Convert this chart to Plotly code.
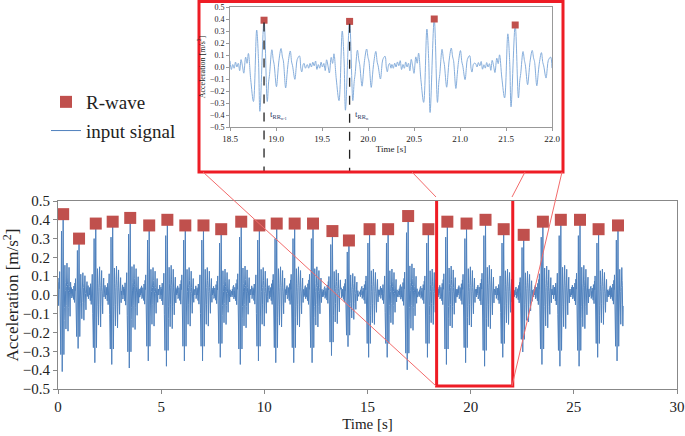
import plotly.graph_objects as go

# R-wave peaks
r_times = [0.25, 1.02, 1.83, 2.65, 3.5, 4.42, 5.3, 6.17, 7.05, 7.91, 8.88, 9.76,
           10.6, 11.47, 12.36, 13.3, 14.1, 15.1, 16.0, 16.97, 17.95, 18.87, 19.8,
           20.72, 21.6, 22.57, 23.5, 24.37, 25.3, 26.2, 27.14]
r_values = [0.43, 0.30, 0.38, 0.39, 0.41, 0.37, 0.40, 0.37, 0.37, 0.35, 0.39, 0.37,
            0.38, 0.38, 0.38, 0.34, 0.29, 0.35, 0.35, 0.42, 0.35, 0.39, 0.38,
            0.40, 0.35, 0.32, 0.39, 0.40, 0.40, 0.35, 0.37]
signal_end = 27.4

# one heartbeat of the input signal (offset from R peak [s], m/s2)
beat_offsets = [-0.46, -0.445, -0.43, -0.415, -0.40, -0.385, -0.37, -0.355, -0.34, -0.325,
                -0.31, -0.295, -0.28, -0.265, -0.25, -0.235, -0.22, -0.20, -0.185, -0.17,
                -0.145, -0.115, -0.08, -0.06, -0.045, 0.00, 0.035, 0.05, 0.06, 0.085,
                0.10, 0.11, 0.135, 0.15, 0.16, 0.185, 0.20, 0.21, 0.235, 0.25,
                0.26, 0.285, 0.30, 0.31, 0.335, 0.35, 0.36, 0.385, 0.40, 0.41,
                0.425, 0.435, 0.45]
beat_shape = [0.02, -0.01, 0.03, 0.00, 0.04, 0.01, 0.05, -0.02, 0.02, -0.01,
              0.04, 0.00, 0.03, -0.03, 0.06, 0.01, -0.05, 0.08, 0.03, 0.11,
              -0.10, -0.28, 0.30, 0.05, -0.36, 0.38, -0.28, -0.12, -0.06, 0.14,
              0.06, 0.02, -0.16, -0.05, 0.04, 0.15, 0.08, 0.05, -0.17, -0.06,
              0.02, 0.13, 0.04, 0.01, -0.10, 0.00, 0.06, 0.09, -0.01, -0.04,
              0.02, 0.03, -0.01]
beat_peak = 0.38

zoom_range = [18.5, 22.0]


def build_signal(t_lo, t_hi):
    ts, vs = [], []
    n = len(r_times)
    for i, (r, a) in enumerate(zip(r_times, r_values)):
        lo = 0 if i == 0 else (r_times[i - 1] + r) / 2
        hi = signal_end if i == n - 1 else (r + r_times[i + 1]) / 2
        for o, v in zip(beat_offsets, beat_shape):
            t = r + o
            if lo <= t < hi and t_lo <= t <= t_hi:
                ts.append(t)
                vs.append(v * a / beat_peak)
    return ts, vs


W, H = 685, 436
px = lambda x: x / W
py = lambda y: 1 - y / H

FONT = "Liberation Serif, Times New Roman, serif"
RED = "#C0504D"
FRAME_RED = "#EE1C25"

sig_t, sig_v = build_signal(0, signal_end)
ins_t, ins_v = build_signal(*zoom_range)
ins_rt = [t for t in r_times if zoom_range[0] <= t <= zoom_range[1]]
ins_rv = [v for t, v in zip(r_times, r_values) if zoom_range[0] <= t <= zoom_range[1]]

fig = go.Figure()
fig.add_trace(go.Scatter(x=sig_t, y=sig_v, mode="lines", name="input signal",
                         line=dict(color="#4F81BD", width=1), legendrank=2,
                         legendgroup="b"))
fig.add_trace(go.Scatter(x=r_times, y=r_values, mode="markers", name="R-wave",
                         marker=dict(symbol="square", size=12, color=RED),
                         legendrank=1, legendgroup="a"))
fig.add_trace(go.Scatter(x=ins_t, y=ins_v, mode="lines", xaxis="x2", yaxis="y2",
                         line=dict(color="#86AEDC", width=1, shape="spline"),
                         showlegend=False))
fig.add_trace(go.Scatter(x=ins_rt, y=ins_rv, mode="markers", xaxis="x2", yaxis="y2",
                         marker=dict(symbol="square", size=7, color=RED),
                         showlegend=False))

axis_common = dict(showgrid=False, zeroline=False, showline=True, mirror=True,
                   ticks="outside", automargin=False)

fig.update_layout(
    width=W, height=H, margin=dict(l=0, r=0, t=0, b=0),
    paper_bgcolor="white", plot_bgcolor="white",
    font=dict(family=FONT, color="#222"),
    xaxis=dict(axis_common, domain=[px(58), px(677)], range=[0, 30], dtick=5,
               linecolor="#888", tickcolor="#888", ticklen=4,
               tickfont=dict(family=FONT, size=15),
               title=dict(text="Time [s]", font=dict(family=FONT, size=15), standoff=4)),
    yaxis=dict(axis_common, domain=[py(389), py(201)], range=[-0.5, 0.5], dtick=0.1,
               tickformat=".1f", linecolor="#888", tickcolor="#888", ticklen=4,
               tickfont=dict(family=FONT, size=15),
               title=dict(text="Acceleration [m/s<sup>2</sup>]",
                          font=dict(family=FONT, size=17), standoff=4)),
    xaxis2=dict(axis_common, domain=[px(230), px(552)], range=zoom_range, dtick=0.5,
                tickformat=".1f", anchor="y2", linecolor="#999", tickcolor="#999",
                ticklen=3, tickfont=dict(family=FONT, size=9),
                title=dict(text="Time [s]", font=dict(family=FONT, size=9), standoff=2)),
    yaxis2=dict(axis_common, domain=[py(127), py(7)], range=[-0.5, 0.5], dtick=0.1,
                tickformat=".1f", anchor="x2", linecolor="#999", tickcolor="#999",
                ticklen=3, tickfont=dict(family=FONT, size=8),
                title=dict(text="Acceleration [m/s<sup>2</sup>]",
                           font=dict(family=FONT, size=8), standoff=3)),
    legend=dict(x=px(46), y=py(83), xanchor="left", yanchor="top",
                font=dict(family=FONT, size=19, color="#222"),
                bgcolor="rgba(0,0,0,0)", tracegroupgap=1),
)

# dashed markers of the RR interval in the inset
rr_a, rr_b = ins_rt[0], ins_rt[1]
for t, v in [(rr_a, ins_rv[0]), (rr_b, ins_rv[1])]:
    fig.add_shape(type="line", xref="x2", yref="y2 domain", x0=t, x1=t,
                  y0=(v - 0.02 + 0.5), y1=-0.37,
                  line=dict(color="#222", width=1.3, dash="dash"))

fig.add_annotation(x=rr_b, y=-0.69, ax=rr_a, ay=-0.69, xref="x2", yref="y2",
                   axref="x2", ayref="y2", text="", showarrow=True,
                   arrowhead=2, startarrowhead=2, arrowside="end+start",
                   arrowsize=1, arrowwidth=1.5, arrowcolor="#F0883A")
fig.add_annotation(x=(rr_a + rr_b) / 2, y=-0.78, xref="x2", yref="y2",
                   text="<i>RR</i><sub>n</sub>", showarrow=False,
                   font=dict(family=FONT, size=9, color="#1F3864"))
fig.add_annotation(x=rr_a + 0.04, y=-0.4, xref="x2", yref="y2", xanchor="left",
                   text="t<sub>RR<sub>n-1</sub></sub>", showarrow=False,
                   font=dict(family=FONT, size=9, color="#1F3864"))
fig.add_annotation(x=rr_b + 0.04, y=-0.4, xref="x2", yref="y2", xanchor="left",
                   text="t<sub>RR<sub>n</sub></sub>", showarrow=False,
                   font=dict(family=FONT, size=9, color="#1F3864"))

# zoom frames and connector lines
fig.add_shape(type="rect", xref="x", yref="y", x0=18.35, x1=22.04, y0=-0.484, y1=0.521,
              line=dict(color=FRAME_RED, width=3))
fig.add_shape(type="rect", xref="paper", yref="paper", x0=px(199), x1=px(563),
              y0=py(172), y1=py(1.5), line=dict(color=FRAME_RED, width=3))
for (xa, ya), (xb, yb) in [((203, 172), (436, 386)), ((412, 172), (436, 197)),
                           ((525, 172), (512, 197)), ((562, 172), (512, 386))]:
    fig.add_shape(type="line", xref="paper", yref="paper", x0=px(xa), y0=py(ya),
                  x1=px(xb), y1=py(yb), line=dict(color="#F26B6B", width=1))

fig.write_html("out.html", config={"displayModeBar": False},
               post_script="document.body.style.margin='0';")
